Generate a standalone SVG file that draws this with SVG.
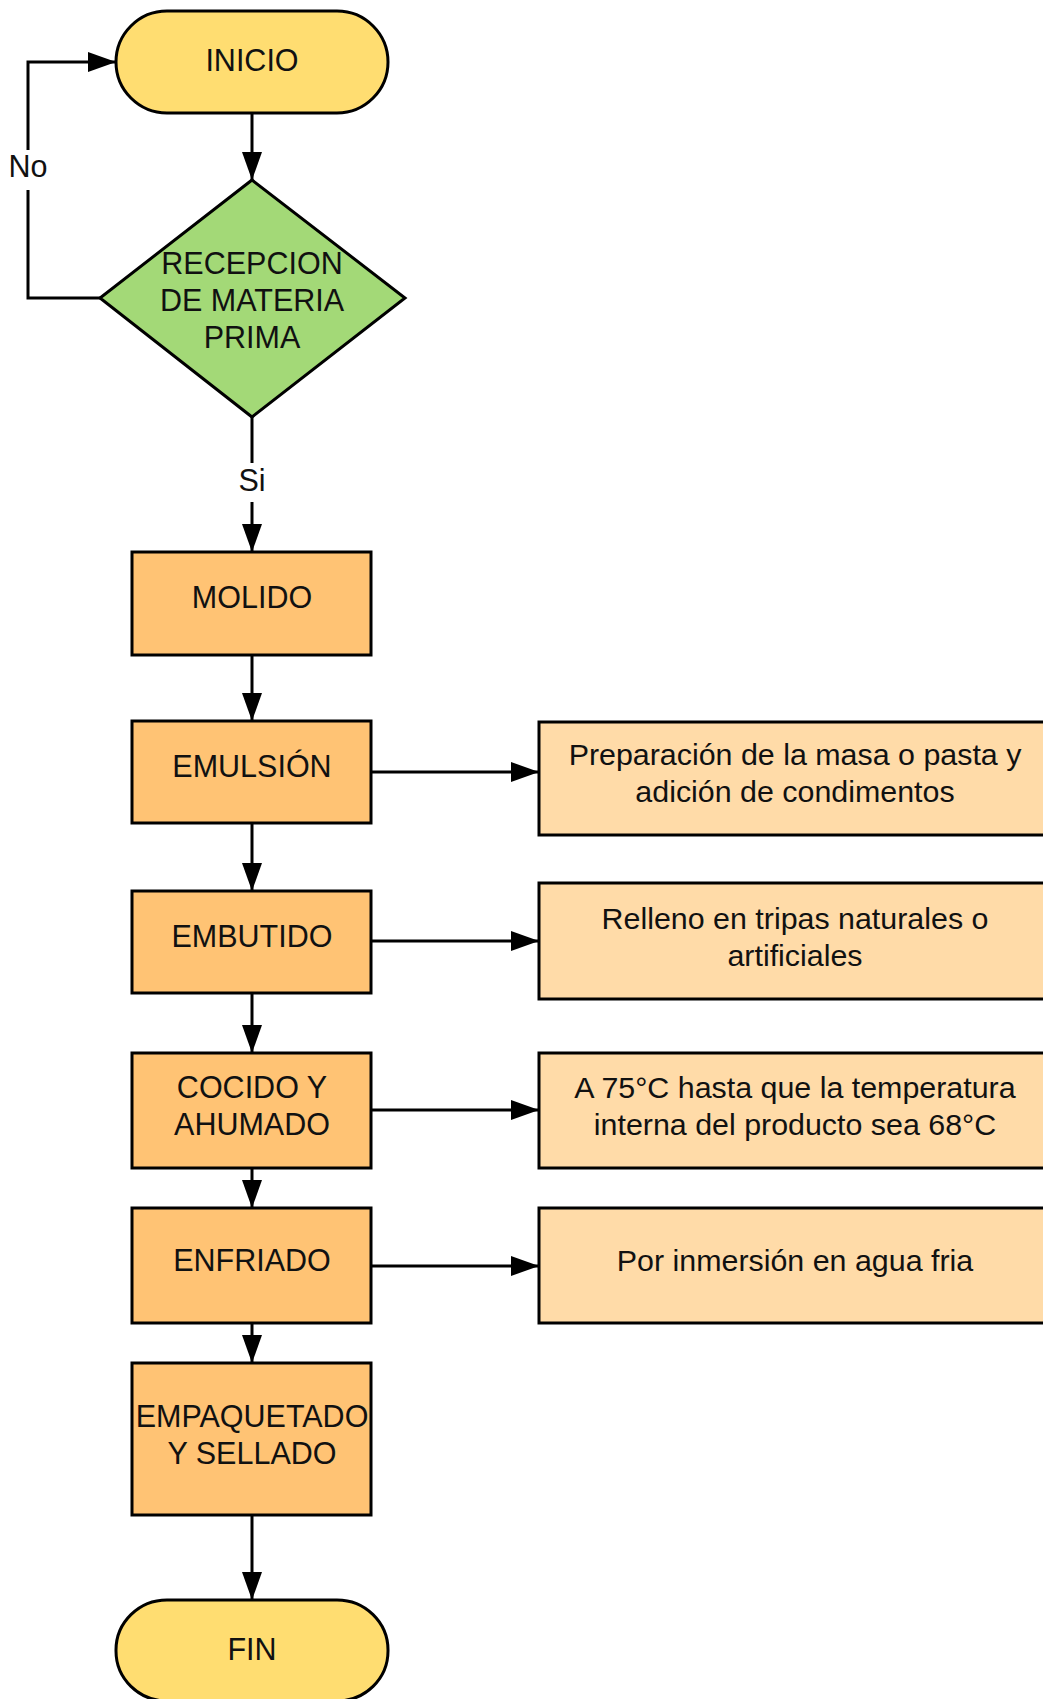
<svg xmlns="http://www.w3.org/2000/svg" width="1043" height="1699" viewBox="0 0 1043 1699">
  <defs>
    <marker id="arrow" viewBox="0 0 28 20" refX="28" refY="10" markerWidth="28" markerHeight="20" markerUnits="userSpaceOnUse" orient="auto">
      <path d="M0,0 L28,10 L0,20 Z" fill="#000"/>
    </marker>
  </defs>
  <style>
    .term { fill: #FFDD71; stroke: #000; stroke-width: 3; }
    .dec { fill: #A3D977; stroke: #000; stroke-width: 3; }
    .proc { fill: #FFC374; stroke: #000; stroke-width: 3; }
    .note { fill: #FFDBA8; stroke: #000; stroke-width: 3; }
    .edge { fill: none; stroke: #000; stroke-width: 3; marker-end: url(#arrow); }
    .bg { fill: #fff; }
    text { font-family: "Liberation Sans", Arial, sans-serif; font-size: 30.5px; fill: #111; text-anchor: middle; }
    .n { font-size: 30.4px; }
  </style>
  <rect width="1043" height="1699" fill="#fff"/>

  <!-- connectors -->
  <g id="connectors">
    <path class="edge" d="M252,113 L252,180"/>
    <path class="edge" d="M252,417 L252,552"/>
    <path class="edge" d="M100,298 L28,298 L28,62 L116,62"/>
    <path class="edge" d="M252,655 L252,721"/>
    <path class="edge" d="M252,823 L252,891"/>
    <path class="edge" d="M252,993 L252,1053"/>
    <path class="edge" d="M252,1168 L252,1208"/>
    <path class="edge" d="M252,1323 L252,1363"/>
    <path class="edge" d="M252,1515 L252,1600"/>
    <path class="edge" d="M371,772 L539,772"/>
    <path class="edge" d="M371,941 L539,941"/>
    <path class="edge" d="M371,1110 L539,1110"/>
    <path class="edge" d="M371,1266 L539,1266"/>
    <g id="label-si">
      <rect class="bg" x="236" y="463" width="32" height="39"/>
      <text x="252" y="491">Si</text>
    </g>
    <g id="label-no">
      <rect class="bg" x="6" y="150" width="44" height="40"/>
      <text x="28" y="177">No</text>
    </g>
  </g>

  <!-- nodes -->
  <g id="inicio">
    <rect class="term" x="116" y="11" width="272" height="102" rx="51" ry="51"/>
    <text x="252" y="71">INICIO</text>
  </g>
  <g id="recepcion">
    <polygon class="dec" points="252,180 405,298 252,417 100,298"/>
    <text x="252" y="274">RECEPCION</text>
    <text x="252" y="311">DE MATERIA</text>
    <text x="252" y="348">PRIMA</text>
  </g>
  <g id="molido">
    <rect class="proc" x="132" y="552" width="239" height="103"/>
    <text x="252" y="608">MOLIDO</text>
  </g>
  <g id="emulsion">
    <rect class="proc" x="132" y="721" width="239" height="102"/>
    <text x="252" y="777">EMULSIÓN</text>
  </g>
  <g id="embutido">
    <rect class="proc" x="132" y="891" width="239" height="102"/>
    <text x="252" y="947">EMBUTIDO</text>
  </g>
  <g id="cocido">
    <rect class="proc" x="132" y="1053" width="239" height="115"/>
    <text x="252" y="1098">COCIDO Y</text>
    <text x="252" y="1135">AHUMADO</text>
  </g>
  <g id="enfriado">
    <rect class="proc" x="132" y="1208" width="239" height="115"/>
    <text x="252" y="1271">ENFRIADO</text>
  </g>
  <g id="empaquetado">
    <rect class="proc" x="132" y="1363" width="239" height="152"/>
    <text x="252" y="1427">EMPAQUETADO</text>
    <text x="252" y="1464">Y SELLADO</text>
  </g>
  <g id="fin">
    <rect class="term" x="116" y="1600" width="272" height="101" rx="51" ry="50"/>
    <text x="252" y="1660">FIN</text>
  </g>

  <g id="nota-emulsion">
    <rect class="note" x="539" y="722" width="515" height="113"/>
    <text class="n" x="795" y="765">Preparación de la masa o pasta y</text>
    <text class="n" x="795" y="802">adición de condimentos</text>
  </g>
  <g id="nota-embutido">
    <rect class="note" x="539" y="883" width="515" height="116"/>
    <text class="n" x="795" y="929">Relleno en tripas naturales o</text>
    <text class="n" x="795" y="966">artificiales</text>
  </g>
  <g id="nota-cocido">
    <rect class="note" x="539" y="1053" width="515" height="115"/>
    <text class="n" x="795" y="1098">A 75°C hasta que la temperatura</text>
    <text class="n" x="795" y="1135">interna del producto sea 68°C</text>
  </g>
  <g id="nota-enfriado">
    <rect class="note" x="539" y="1208" width="515" height="115"/>
    <text class="n" x="795" y="1271">Por inmersión en agua fria</text>
  </g>
</svg>
